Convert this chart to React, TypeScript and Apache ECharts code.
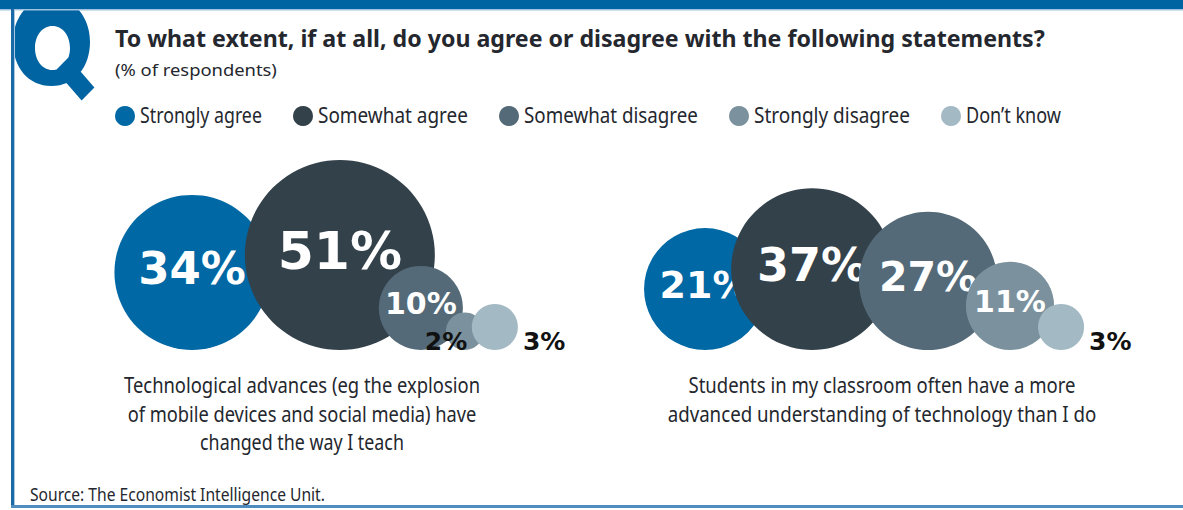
import React, { useEffect, useRef } from "react";
import * as echarts from "echarts";

// ---------- data ----------
const categories = ["Strongly agree", "Somewhat agree", "Somewhat disagree", "Strongly disagree", "Don\u2019t know"];
const techStatement = [
  "Technological advances (eg the explosion",
  "of mobile devices and social media) have",
  "changed the way I teach",
];
const studentStatement = [
  "Students in my classroom often have a more",
  "advanced understanding of technology than I do",
];
const techValues = [34, 51, 10, 2, 3];
const studentValues = [21, 37, 27, 11, 3];
const titleText = "To what extent, if at all, do you agree or disagree with the following statements?";
const subtitleText = "(% of respondents)";
const sourceText = "Source: The Economist Intelligence Unit.";

// ---------- layout & style ----------
const W = 1183;
const H = 510;
const COLORS = ["#0068a4", "#33414a", "#546a78", "#7b929e", "#a3b9c4"];
const FRAME_BLUE = "#0064a3";
const TEXT_DARK = "#24272e";
const FONT = '"Noto Sans", sans-serif';
const NUM_FONT = '"DejaVu Sans", sans-serif';
const BASELINE = 350; // bubbles sit on this line
const R_SCALE = 13.3; // radius = R_SCALE * sqrt(value)
const SMALL_LABEL_Y = 341;

// "Q" logo outline (outer bowl, counter, tail) – squarish heavy Q
const Q_PATH =
  "M51.5 -2 C75 -2 90 18 90 42 C90 67 75 86 51.5 86 C28 86 13 67 13 42 C13 18 28 -2 51.5 -2 Z " +
  "M52.5 26 C42 26 35 36 35 48 C35 60 42 70 52.5 70 C63 70 70 60 70 48 C70 36 63 26 52.5 26 Z " +
  "M68.4 57.6 L94.4 87.6 L81.6 100.4 L55.6 70.4 Z";

let qRegistered = false;
function ensureQShape() {
  if (qRegistered) return;
  echarts.graphic.registerShape("qlogo", echarts.graphic.extendPath(Q_PATH, {}) as any);
  qRegistered = true;
}

const groups = [
  {
    values: techValues,
    lines: techStatement,
    firstX: 192,
    spacing: [0.857, 0.591, 0.722, 0.718],
    labelMode: [0, 0, 0, 2, 1],
    captionX: 302,
    lineWidths: [356, 349, 204],
  },
  {
    values: studentValues,
    lines: studentStatement,
    firstX: 705,
    spacing: [0.755, 0.773, 0.724, 0.76],
    labelMode: [0, 0, 0, 0, 1],
    captionX: 882,
    lineWidths: [387, 429],
  },
];

const legendTextWidths = [122, 150, 174, 156, 95];

function buildBubbleData() {
  const out: number[][] = [];
  groups.forEach((g) => {
    const r = g.values.map((v) => R_SCALE * Math.sqrt(v));
    const xs: number[] = [g.firstX];
    for (let i = 1; i < r.length; i++) xs[i] = xs[i - 1] + g.spacing[i - 1] * (r[i - 1] + r[i]);
    g.values.forEach((v, i) => out.push([xs[i], BASELINE - r[i], r[i], v, i, g.labelMode[i]]));
  });
  return out;
}

export default function App() {
  const ref = useRef<HTMLDivElement>(null);

  useEffect(() => {
    if (!ref.current) return;
    ensureQShape();
    const chart = echarts.init(ref.current, null, { renderer: "svg" });
    const ctx = document.createElement("canvas").getContext("2d") as CanvasRenderingContext2D;

    const fit = (text: string, size: number, weight: string, family: string, target: number) => {
      ctx.font = `${weight} ${size}px ${family}`;
      const w = ctx.measureText(text).width;
      return w > 0 ? target / w : 1;
    };

    const textEl = (
      text: string,
      x: number,
      y: number,
      size: number,
      weight: string,
      target: number,
      align: string = "left",
      fill: string = TEXT_DARK,
      family: string = FONT
    ) => ({
      type: "text",
      x,
      y,
      scaleX: fit(text, size, weight, family, target),
      silent: true,
      style: {
        text,
        fill,
        fontSize: size,
        fontWeight: weight,
        fontFamily: family,
        align,
        verticalAlign: "middle",
        textAlign: align,
        textVerticalAlign: "middle",
      },
    });

    const graphics: any[] = [];

    // Big "Q" logo
    graphics.push({ type: "qlogo", x: 0, y: 0, scaleX: 1, scaleY: 1, silent: true, style: { fill: FRAME_BLUE } });

    // Frame
    graphics.push({ type: "rect", silent: true, shape: { x: 0, y: 0, width: W, height: 9 }, style: { fill: FRAME_BLUE } });
    graphics.push({ type: "rect", silent: true, shape: { x: 0, y: 9, width: W, height: 1.5 }, style: { fill: "#9fc2de" } });
    graphics.push({ type: "rect", silent: true, shape: { x: 11, y: 9, width: 3, height: 498 }, style: { fill: "#1a6aa8" } });
    graphics.push({ type: "rect", silent: true, shape: { x: 14, y: 10, width: 1, height: 496 }, style: { fill: "#a9c9e2" } });
    graphics.push({ type: "rect", silent: true, shape: { x: 11, y: 505, width: W - 11, height: 3 }, style: { fill: "#4f8cbf" } });

    // Title & subtitle
    graphics.push(textEl(titleText, 115, 37.6, 23, "bold", 930));
    graphics.push(textEl(subtitleText, 115, 69.6, 16.5, "normal", 162));

    // Legend
    let dotLeft = 115;
    categories.forEach((c, i) => {
      graphics.push({ type: "circle", silent: true, shape: { cx: dotLeft + 10, cy: 116, r: 10 }, style: { fill: COLORS[i] } });
      const tx = dotLeft + 25;
      graphics.push(textEl(c, tx, 115, 21, "normal", legendTextWidths[i]));
      dotLeft = tx + legendTextWidths[i] + 31;
    });

    // Captions
    groups.forEach((g) => {
      g.lines.forEach((line, i) => {
        const baseline = 393 + 28.5 * i;
        graphics.push(textEl(line, g.captionX, baseline - 8.5, 22, "normal", g.lineWidths[i], "center"));
      });
    });

    // Source
    graphics.push(textEl(sourceText, 30, 494, 17.5, "normal", 295));

    const option: any = {
      animation: false,
      backgroundColor: "#ffffff",
      grid: { left: 0, right: 0, top: 0, bottom: 0 },
      xAxis: { type: "value", min: 0, max: W, show: false },
      yAxis: { type: "value", min: 0, max: H, inverse: true, show: false },
      graphic: { elements: graphics },
      series: [
        {
          type: "custom",
          name: "Responses",
          clip: false,
          silent: true,
          data: buildBubbleData(),
          renderItem: (_params: any, api: any) => {
            const c = api.coord([api.value(0), api.value(1)]);
            const rp = api.size([api.value(2), 0])[0];
            const v = api.value(3);
            const ci = api.value(4);
            const mode = api.value(5);
            const children: any[] = [
              { type: "circle", shape: { cx: c[0], cy: c[1], r: rp }, style: { fill: COLORS[ci] } },
            ];
            const label = `${v}%`;
            if (mode === 0) {
              const fs = Math.round(11.5 + 0.43 * rp);
              children.push({
                type: "text",
                x: c[0],
                y: c[1] - 4,
                style: {
                  text: label,
                  fill: "#ffffff",
                  fontSize: fs,
                  fontWeight: "bold",
                  fontFamily: NUM_FONT,
                  align: "center",
                  verticalAlign: "middle",
                  textAlign: "center",
                  textVerticalAlign: "middle",
                },
              });
            } else {
              const right = mode === 1;
              children.push({
                type: "text",
                x: right ? c[0] + rp + 5 : c[0] - rp,
                y: SMALL_LABEL_Y,
                style: {
                  text: label,
                  fill: "#111111",
                  fontSize: 25,
                  fontWeight: "bold",
                  fontFamily: NUM_FONT,
                  align: right ? "left" : "center",
                  verticalAlign: "middle",
                  textAlign: right ? "left" : "center",
                  textVerticalAlign: "middle",
                },
              });
            }
            return { type: "group", children };
          },
        },
      ],
    };

    chart.setOption(option);
    return () => chart.dispose();
  }, []);

  return (
    <div
      ref={ref}
      style={{ position: "absolute", left: 0, top: 0, width: W, height: H, background: "#ffffff" }}
    />
  );
}
